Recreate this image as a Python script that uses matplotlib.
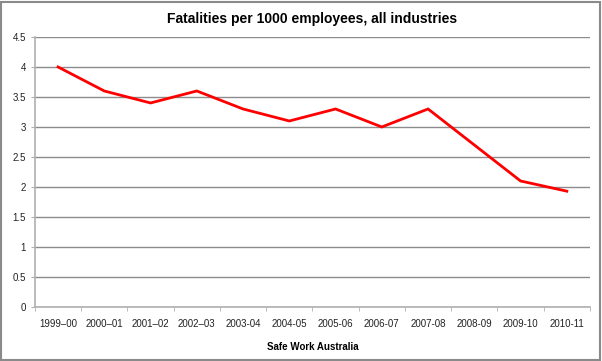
import matplotlib
matplotlib.use("Agg")
import matplotlib.pyplot as plt
import numpy as np

# ----------------------------------------------------------
# Data
# ----------------------------------------------------------
years = ["1999–00", "2000–01", "2001–02", "2002–03", "2003-04", "2004-05",
         "2005-06", "2006-07", "2007-08", "2008-09", "2009-10", "2010-11"]
fatalities = [4.0, 3.6, 3.4, 3.6, 3.3, 3.1, 3.3, 3.0, 3.3, 2.7, 2.1, 1.93]

plt.rcParams["font.family"] = ["Liberation Sans", "DejaVu Sans"]

fig = plt.figure(figsize=(6.02, 3.61), dpi=100)
ax = fig.add_axes([0.058, 0.1496, 0.922, 0.748])

# outer frame
fig.patches.append(plt.Rectangle((0.002, 0.003), 0.994, 0.992, transform=fig.transFigure,
                                 fill=False, edgecolor="#8a8a8a", linewidth=1.5))

x = np.arange(len(years))
ax.plot(x, fatalities, color="#ff0000", linewidth=2, solid_joinstyle="miter")

ax.set_xlim(-0.5, len(years) - 0.5)
ax.set_ylim(0, 4.5)
ax.set_yticks(np.arange(0, 4.51, 0.5))
ax.set_yticklabels(["0", "0.5", "1", "1.5", "2", "2.5", "3", "3.5", "4", "4.5"])
ax.set_xticks(x)
ax.set_xticklabels(years)
ax.set_xticks(np.arange(-0.5, len(years)), minor=True)

ax.grid(axis="y", color="#8c8c8c", linewidth=1)
ax.set_axisbelow(True)
for s in ["top", "right"]:
    ax.spines[s].set_visible(False)
for s in ["left", "bottom"]:
    ax.spines[s].set_color("#b0b0b0")
    ax.spines[s].set_linewidth(1.2)

ax.tick_params(axis="x", which="major", length=0, labelsize=7, pad=9, colors="#222222")
ax.tick_params(axis="x", which="minor", length=3, color="#b0b0b0", direction="out")
ax.tick_params(axis="y", length=3, color="#b0b0b0", labelsize=7, colors="#222222")

ax.set_title("Fatalities per 1000 employees, all industries",
             fontsize=10, fontweight="bold", pad=10)
ax.set_xlabel("Safe Work Australia", fontsize=7, fontweight="bold", labelpad=9)

fig.savefig("out.png", dpi=100)
